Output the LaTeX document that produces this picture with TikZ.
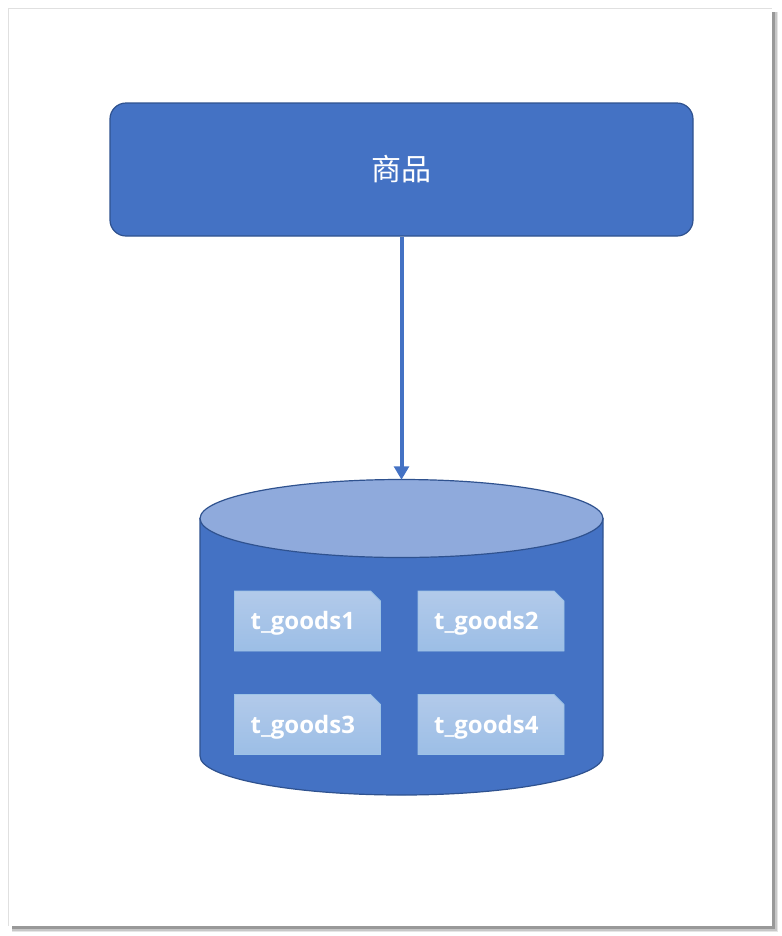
\documentclass[tikz,border=0pt]{standalone}
\usepackage{fontspec}
\setmainfont{Noto Sans}
\newfontfamily\cjk{Noto Sans CJK SC}
\newfontfamily\docfont{Open Sans}
\usetikzlibrary{shapes.misc,arrows.meta}
\definecolor{mainblue}{HTML}{4472C4}
\definecolor{edgeblue}{HTML}{2F528F}
\definecolor{topblue}{HTML}{8FAADC}
\definecolor{doctop}{HTML}{B2CAEA}
\definecolor{docbot}{HTML}{9CBEE6}
\definecolor{docedge}{HTML}{9DC3E6}
\tikzset{
  px/.style={x=0.75pt,y=-0.75pt},
  entitybox/.style={rectangle, rounded corners=12pt, fill=mainblue, draw=edgeblue, line width=0.9pt,
    minimum width=437.25pt, minimum height=99.75pt, inner sep=0pt, text=white, font=\cjk\fontsize{22.5}{26}\selectfont},
  docbox/.style={chamfered rectangle, chamfered rectangle corners=north east, chamfered rectangle sep=7.5pt,
    top color=doctop, bottom color=docbot, draw=docedge, line width=0.6pt,
    minimum width=109.5pt, minimum height=45pt, inner sep=0pt, text=white, font=\docfont\bfseries\fontsize{18}{21}\selectfont},
  link/.style={draw=mainblue, line width=3pt, -{Triangle[length=10pt,width=11pt]}},
}
\newcommand\doclabel[1]{\hspace*{-7pt}\raisebox{-6.4pt}[0pt][0pt]{#1}}
\begin{document}
\begin{tikzpicture}[px]
\useasboundingbox (0,0) rectangle (782,936);
\fill[white] (0,0) rectangle (782,936);
% page shadow
\fill[black!10] (12,12) rectangle (778,932);
\fill[black!22] (12,12) rectangle (777,931);
\fill[black!40] (12,12) rectangle (775,929);
\fill[black!12] (8,8) rectangle (772,926);
\fill[white] (9,9) rectangle (772,926);
% entity box
\node[entitybox] (goods) at (401.5,169.5) {商品};
% database
\node[minimum width=302.25pt, minimum height=236.25pt, inner sep=0pt] (db) at (401.5,637.5) {};
\path[fill=mainblue, draw=edgeblue, line width=0.9pt]
  (200,518.5) -- (200,756) arc[start angle=180, end angle=360, x radius=151.1pt, y radius=29.25pt]
  -- (603,518.5) -- cycle;
\path[fill=topblue, draw=edgeblue, line width=0.9pt] (401.5,518.5) ellipse[x radius=151.1pt, y radius=29.25pt];
\node[docbox] (g1) at (307.5,621) {\doclabel{t\_goods1}};
\node[docbox] (g2) at (491,621) {\doclabel{t\_goods2}};
\node[docbox] (g3) at (307.5,724.5) {\doclabel{t\_goods3}};
\node[docbox] (g4) at (491,724.5) {\doclabel{t\_goods4}};
% connector
\draw[link] (goods.south) -- (db.north);
\end{tikzpicture}
\end{document}
